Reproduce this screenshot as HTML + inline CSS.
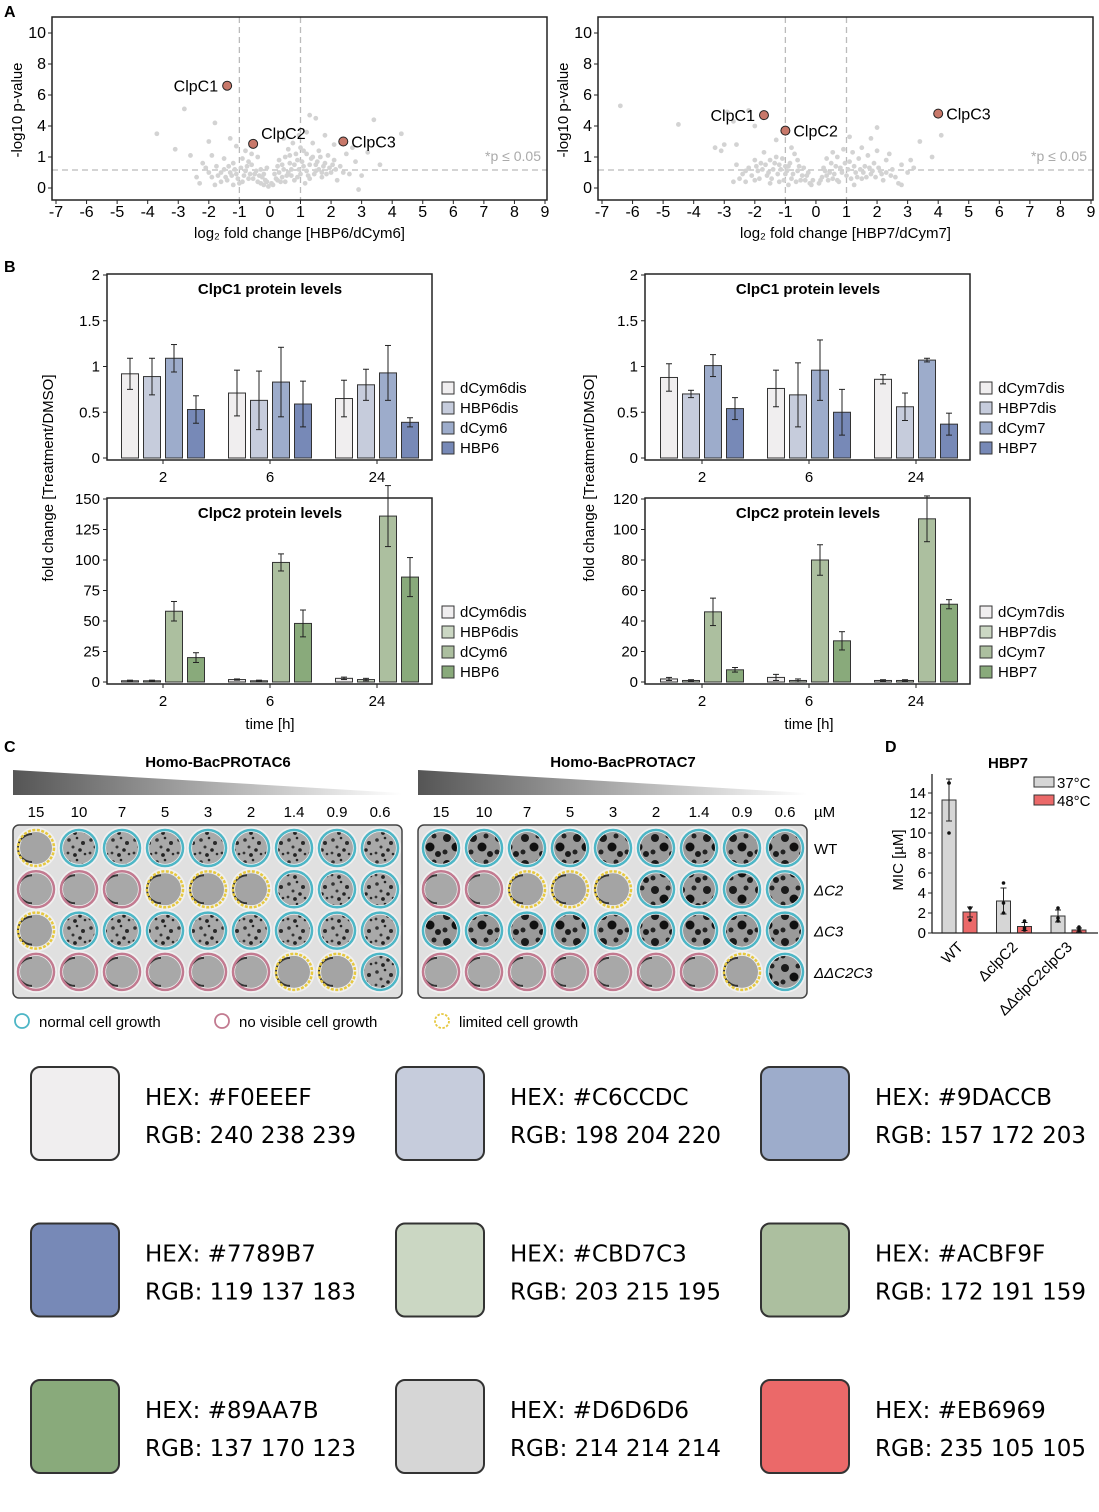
<!DOCTYPE html>
<html><head><meta charset="utf-8">
<style>
body{margin:0;background:#fff;}
svg text{font-family:"Liberation Sans",Arial,sans-serif;}
.sw text{font-family:"DejaVu Sans","Liberation Sans",sans-serif;}
</style></head>
<body>
<svg id="fig" width="1099" height="1507" viewBox="0 0 1099 1507" xmlns="http://www.w3.org/2000/svg">
<defs>
<linearGradient id="wedge" x1="0" x2="1" y1="0" y2="0"><stop offset="0" stop-color="#555"/><stop offset="1" stop-color="#fff"/></linearGradient>
<pattern id="speck" width="22" height="22" patternUnits="userSpaceOnUse">
<rect width="22" height="22" fill="#a9a9a9"/>
<circle cx="3" cy="4" r="1.8" fill="#333"/><circle cx="11" cy="2" r="1.3" fill="#222"/><circle cx="17" cy="7" r="2" fill="#2a2a2a"/><circle cx="7" cy="11" r="1.5" fill="#333"/><circle cx="14" cy="14" r="1.8" fill="#222"/><circle cx="2" cy="17" r="1.4" fill="#333"/><circle cx="19" cy="18" r="1.3" fill="#2a2a2a"/><circle cx="9" cy="19" r="1.9" fill="#222"/>
</pattern>
<pattern id="blob" width="26" height="26" patternUnits="userSpaceOnUse">
<rect width="26" height="26" fill="#9a9a9a"/>
<circle cx="5" cy="6" r="4" fill="#1a1a1a"/><circle cx="18" cy="4" r="2.5" fill="#222"/><circle cx="14" cy="15" r="4.5" fill="#111"/><circle cx="3" cy="20" r="2.5" fill="#222"/><circle cx="22" cy="22" r="3" fill="#1a1a1a"/>
</pattern>
</defs>
<g id="root"></g>
</svg>
<script>
// ---------- data ----------
const volcXTicks = [-7,-6,-5,-4,-3,-2,-1,0,1,2,3,4,5,6,7,8,9];
const volcYTicks = [0,2,4,6,8,10];
const volcYLabels = ["0","1","4","6","8","10"];
const volcLeftPts = [[-1.7,0.8],[-1.5,1.2],[-1.4,0.5],[-1.2,1.6],[-1.1,0.9],[-1.0,0.3],[-0.9,1.9],[-0.8,1.1],[-0.7,0.6],[-0.6,1.5],[-0.5,0.9],[-0.4,0.4],[-0.3,1.2],[-0.25,0.7],[-0.2,0.2],[-0.15,0.5],[-0.6,2.2],[-0.9,0.4],[-1.3,1.0],[-1.6,0.4],[-2.0,1.0],[-2.2,1.6],[-2.4,0.7],[-1.9,2.1],[-0.8,2.4],[-1.1,2.7],[-0.4,2.0],[-2.6,2.1],[-3.1,2.5],[-3.7,3.5],[-2.8,5.1],[-1.8,4.2],[-2.0,3.0],[-1.3,3.2],[0.1,0.2],[0.2,0.6],[0.3,1.0],[0.35,0.4],[0.4,1.5],[0.5,2.0],[0.55,0.8],[0.6,2.5],[0.7,1.2],[0.75,2.9],[0.8,0.5],[0.9,1.8],[1.0,2.6],[1.0,0.9],[1.1,1.4],[1.2,2.2],[1.3,0.6],[1.35,1.9],[1.4,2.9],[1.5,1.1],[1.6,2.4],[1.7,0.7],[1.8,1.6],[1.9,2.1],[2.0,1.0],[2.1,1.8],[2.2,0.5],[2.3,1.4],[2.5,2.2],[2.6,0.9],[2.8,1.7],[3.0,0.8],[1.3,4.7],[1.5,4.5],[1.2,3.6],[1.8,3.4],[2.1,2.8],[3.4,4.4],[4.3,3.5],[3.6,1.5],[2.7,2.6],[3.2,2.3],[0.45,3.2],[0.95,3.4],[-0.1,1.3],[-2.3,0.3],[-1.8,0.2],[-1.2,0.2],[-0.7,1.7],[0.65,1.6],[1.15,0.3],[1.55,1.7],[0.25,1.4],[-1.5,1.9],[2.4,1.0],[2.9,-0.1],
[-1.6,1.0],[-1.45,0.7],[-1.35,1.4],[-1.25,0.8],[-1.15,1.2],[-1.05,0.6],[-0.95,1.3],[-0.85,0.8],[-0.75,1.4],[-0.65,0.9],[-0.55,0.6],[-0.45,1.1],[-0.35,0.8],[-0.3,0.3],[-0.2,0.9],[-0.1,0.4],[-0.05,0.1],[0.05,0.3],[0.15,0.9],[0.25,0.5],[0.3,1.8],[0.4,0.7],[0.45,1.2],[0.5,0.4],[0.6,1.0],[0.65,2.1],[0.7,0.8],[0.8,1.5],[0.85,2.2],[0.9,0.7],[0.95,1.2],[1.05,1.7],[1.1,2.4],[1.2,1.1],[1.25,0.8],[1.3,1.5],[1.4,2.0],[1.45,0.9],[1.5,1.5],[1.6,1.2],[1.65,2.0],[1.7,1.0],[1.75,1.4],[1.85,0.9],[1.95,1.3],[2.05,1.5],[2.15,1.2],[-1.75,1.4],[-1.9,0.7],[-2.1,1.3]];
const volcRightPts = [[-2.4,0.9],[-2.2,1.3],[-2.0,0.5],[-1.8,1.6],[-1.6,0.8],[-1.4,1.2],[-1.2,0.4],[-1.1,1.9],[-1.0,0.9],[-0.9,1.4],[-0.8,0.6],[-0.7,2.2],[-0.6,1.1],[-0.5,0.5],[-0.4,1.3],[-0.3,0.8],[-0.2,0.3],[-0.1,0.5],[-1.5,0.3],[-1.9,1.1],[-2.6,1.5],[-2.3,0.4],[-0.8,2.6],[-1.3,2.0],[-1.7,2.3],[-0.6,1.8],[0.1,0.3],[0.2,0.7],[0.3,1.1],[0.4,0.5],[0.5,1.6],[0.6,0.9],[0.7,2.0],[0.8,1.3],[0.9,2.5],[1.0,0.8],[1.1,1.7],[1.2,2.3],[1.3,1.0],[1.4,1.9],[1.5,0.6],[1.6,1.4],[1.7,2.1],[1.8,0.9],[1.9,1.6],[2.0,2.4],[2.1,1.1],[2.2,0.5],[2.3,1.8],[2.5,1.2],[2.6,0.7],[2.8,1.5],[2.7,0.3],[3.0,1.0],[3.2,1.3],[0.35,1.9],[0.55,2.3],[-6.4,5.3],[-4.5,4.1],[-3.3,2.6],[-2.9,4.9],[-2.7,4.3],[-2.2,5.0],[-2.0,4.0],[-1.3,3.1],[-3.0,2.8],[-2.6,2.8],[-3.1,2.4],[1.1,3.3],[2.0,3.9],[1.8,3.2],[1.5,2.6],[3.4,3.0],[4.1,3.4],[3.8,2.0],[3.1,1.8],[2.8,0.2],[-2.7,0.4],[-0.9,0.2],[0.75,0.4],[1.25,0.2],[-1.2,1.5],[2.4,2.2],
[-2.3,1.1],[-2.1,0.8],[-1.95,1.4],[-1.85,0.6],[-1.75,1.2],[-1.65,1.5],[-1.55,1.0],[-1.45,0.6],[-1.35,1.6],[-1.25,0.9],[-1.15,1.2],[-1.05,0.5],[-0.95,1.1],[-0.85,1.6],[-0.75,0.9],[-0.65,0.4],[-0.55,1.4],[-0.45,0.8],[-0.35,0.5],[-0.25,1.0],[-0.15,0.2],[0.15,0.5],[0.25,1.3],[0.35,0.8],[0.45,1.0],[0.55,0.6],[0.65,1.4],[0.7,0.5],[0.85,1.0],[0.95,1.6],[1.05,1.2],[1.15,0.6],[1.25,1.4],[1.35,0.7],[1.45,1.2],[1.55,1.0],[1.65,0.7],[1.75,1.3],[1.85,1.1],[1.95,0.7],[2.05,1.3],[2.15,0.9],[2.3,1.0],[2.45,0.8],[-2.5,0.6],[-2.0,1.8],[-1.5,1.8],[-1.0,1.4]];
const volcLeftHits = [["ClpC1",-1.4,6.6],["ClpC2",-0.55,2.85],["ClpC3",2.4,3.0]];
const volcRightHits = [["ClpC1",-1.7,4.7],["ClpC2",-1.0,3.7],["ClpC3",4.0,4.8]];

const barTimes = ["2","6","24"];
const c1L = [[0.92,0.89,1.09,0.53],[0.71,0.63,0.83,0.59],[0.65,0.80,0.93,0.39]];
const c1Lerr = [[0.17,0.2,0.15,0.15],[0.25,0.32,0.38,0.25],[0.2,0.17,0.3,0.05]];
const c2L = [[1,1,58,20],[2,1,98,48],[3,2,136,86]];
const c2Lerr = [[0.5,0.5,8,4],[0.5,0.5,7,11],[1,1,25,16]];
const c1R = [[0.88,0.70,1.01,0.54],[0.76,0.69,0.96,0.50],[0.86,0.56,1.07,0.37]];
const c1Rerr = [[0.15,0.04,0.12,0.12],[0.2,0.35,0.33,0.25],[0.05,0.15,0.02,0.12]];
const c2R = [[2,1,46,8],[3,1,80,27],[1,1,107,51]];
const c2Rerr = [[1,0.5,9,1.5],[2,1,10,6],[0.5,0.5,15,3]];
const c1Ticks = [0,0.5,1,1.5,2];
const c1TickLabels = ["0","0.5","1","1.5","2"];
const c2LTicks = [0,25,50,75,100,125,150];
const c2RTicks = [0,20,40,60,80,100,120];
const legL1 = ["dCym6dis","HBP6dis","dCym6","HBP6"];
const legR1 = ["dCym7dis","HBP7dis","dCym7","HBP7"];

const concLabels = ["15","10","7","5","3","2","1.4","0.9","0.6"];
const strainLabels = ["WT","ΔC2","ΔC3","ΔΔC2C3"];
// B=normal, P=no growth, Y=limited
const plate6 = ["YBBBBBBBB","PPPYYYBBB","YBBBBBBBB","PPPPPPYYB"];
const plate7 = ["BBBBBBBBB","PPYYYBBBB","BBBBBBBBB","PPPPPPPYB"];

const micCats = ["WT","ΔclpC2","ΔΔclpC2clpC3"];
const mic37 = [13.3,3.2,1.7];
const mic48 = [2.1,0.65,0.3];
const mic37err = [2.1,1.3,0.6];
const mic48err = [0.5,0.4,0.2];
const mic37pts = [[15,10,15],[5,2,3],[2.5,1.2,1.5]];
const mic48pts = [[2.5,1.3,2.5],[1.2,0.3,0.5],[0.6,0.2,0.4]];
const micTicks = [0,2,4,6,8,10,12,14];

const swHex = ["#F0EEEF","#C6CCDC","#9DACCB","#7789B7","#CBD7C3","#ACBF9F","#89AA7B","#D6D6D6","#EB6969"];
const swRgb = ["240 238 239","198 204 220","157 172 203","119 137 183","203 215 195","172 191 159","137 170 123","214 214 214","235 105 105"];

// ---------- helpers ----------
const NS="http://www.w3.org/2000/svg";
const root=document.getElementById('root');
function E(tag,attrs,parent,txt){const e=document.createElementNS(NS,tag);for(const k in attrs)e.setAttribute(k,attrs[k]);if(txt!==undefined)e.textContent=txt;(parent||root).appendChild(e);return e;}
function G(name,parent){const g=E('g',{},parent);return g;}

// ---------- panel letters ----------
[["A",4,17],["B",4,272],["C",4,752],["D",885,752]].forEach(p=>{
  const t=E('text',{x:p[1],y:p[2],'font-size':16,'font-weight':'bold'},root,p[0]);
  
  
});

// ---------- volcano ----------
function volcano(x0,x1,pts,hits,xlabel,name){
  const g=G(name);
  const top=17,bot=200;
  const sx=v=>x0+4+(v+7)*(x1-x0-6)/16;
  const sy=v=>188-v*15.5;
  E('line',{x1:sx(-1),x2:sx(-1),y1:top,y2:bot,stroke:'#bbb','stroke-dasharray':'6,4','stroke-width':1.3},g);
  E('line',{x1:sx(1),x2:sx(1),y1:top,y2:bot,stroke:'#bbb','stroke-dasharray':'6,4','stroke-width':1.3},g);
  E('line',{x1:x0,x2:x1,y1:sy(1.16),y2:sy(1.16),stroke:'#bbb','stroke-dasharray':'6,4','stroke-width':1.3},g);
  pts.forEach(p=>{const c=E('circle',{cx:sx(p[0]),cy:sy(p[1]),r:2.4,fill:'#d3d3d3'},g);
    });
  hits.forEach(h=>{const c=E('circle',{cx:sx(h[1]),cy:sy(h[2]),r:4.5,fill:'#c8786a',stroke:'#222','stroke-width':1},g);
    
    const left=h[0]==="ClpC1";
    const t=E('text',{x:left?sx(h[1])-9:sx(h[1])+8,y:sy(h[2])+(h[0]==="ClpC2"&&name==="volcano-left"?-5:6),'font-size':16,'text-anchor':left?'end':'start'},g,h[0]);
    });
  E('text',{x:x1-6,y:161,'font-size':14,fill:'#aaa','text-anchor':'end'},g,'*p ≤ 0.05');
  E('rect',{x:x0,y:top,width:x1-x0,height:bot-top,fill:'none',stroke:'#222','stroke-width':1.5},g);
  volcXTicks.forEach(v=>{E('line',{x1:sx(v),x2:sx(v),y1:bot,y2:bot+4,stroke:'#222'},g);
    E('text',{x:sx(v),y:bot+17,'font-size':16,'text-anchor':'middle'},g,String(v));});
  volcYTicks.forEach((v,i)=>{E('line',{x1:x0-4,x2:x0,y1:sy(v),y2:sy(v),stroke:'#222'},g);
    E('text',{x:x0-6,y:sy(v)+5,'font-size':16,'text-anchor':'end'},g,volcYLabels[i]);});
  const yt=E('text',{x:0,y:0,'font-size':15,'text-anchor':'middle',transform:`translate(${x0-30},110) rotate(-90)`},g,'-log10 p-value');
  
  const xt=E('text',{x:(x0+x1)/2,y:238,'font-size':15,'text-anchor':'middle'},g,xlabel);
  
}
volcano(52,547,volcLeftPts,volcLeftHits,'log₂ fold change [HBP6/dCym6]','volcano-left');
volcano(598,1093,volcRightPts,volcRightHits,'log₂ fold change [HBP7/dCym7]','volcano-right');

// ---------- bar charts ----------
function barChart(x0,top,bot,maxV,ticks,tickLabels,vals,errs,colors,title,leg,name,centers){
  const g=G(name);
  const x1=x0+325, base=bot-2;
  const sy=v=>base-v*(base-(top+1))/maxV;
  E('rect',{x:x0,y:top,width:325,height:bot-top,fill:'none',stroke:'#222','stroke-width':1.5},g);
  E('text',{x:x0+163,y:top+20,'font-size':15,'font-weight':'bold','text-anchor':'middle'},g,title);
  ticks.forEach((v,i)=>{E('line',{x1:x0-4,x2:x0,y1:sy(v),y2:sy(v),stroke:'#222'},g);
    E('text',{x:x0-7,y:sy(v)+5,'font-size':15,'text-anchor':'end'},g,tickLabels[i]);});
  vals.forEach((grp,gi)=>{
    const cx=centers[gi];
    E('line',{x1:cx,x2:cx,y1:bot,y2:bot+4,stroke:'#222'},g);
    E('text',{x:cx,y:bot+22,'font-size':15,'text-anchor':'middle'},g,barTimes[gi]);
    grp.forEach((v,bi)=>{
      const bx=cx-44+bi*22+2.5;
      const r=E('rect',{x:bx,y:sy(v),width:17,height:Math.max(0.5,base-sy(v)),fill:colors[bi],stroke:'#333','stroke-width':1},g);
      
      
      const e=errs[gi][bi], mx=bx+8.5;
      E('line',{x1:mx,x2:mx,y1:sy(v+e),y2:sy(Math.max(0,v-e)),stroke:'#222','stroke-width':1},g);
      E('line',{x1:mx-3,x2:mx+3,y1:sy(v+e),y2:sy(v+e),stroke:'#222'},g);
      E('line',{x1:mx-3,x2:mx+3,y1:sy(Math.max(0,v-e)),y2:sy(Math.max(0,v-e)),stroke:'#222'},g);
    });
  });
  leg.forEach((l,i)=>{
    const ly=bot-67+i*20;
    const lg=G('legend-entry-'+l.toLowerCase(),g);
    E('rect',{x:x1+10,y:ly-11,width:12,height:12,fill:colors[i],stroke:'#333'},lg);
    E('text',{x:x1+28,y:ly,'font-size':15},lg,l);
  });
}
const blueC=["#F0EEEF","#C6CCDC","#9DACCB","#7789B7"];
const greenC=["#F0EEEF","#CBD7C3","#ACBF9F","#89AA7B"];
barChart(107,274,460,2,c1Ticks,c1TickLabels,c1L,c1Lerr,blueC,'ClpC1 protein levels',legL1,'clpc1-bars-hbp6',[163,270,377]);
barChart(107,498,684,150,c2LTicks,c2LTicks.map(String),c2L,c2Lerr,greenC,'ClpC2 protein levels',legL1,'clpc2-bars-hbp6',[163,270,377]);
barChart(645,274,460,2,c1Ticks,c1TickLabels,c1R,c1Rerr,blueC,'ClpC1 protein levels',legR1,'clpc1-bars-hbp7',[702,809,916]);
barChart(645,498,684,120,c2RTicks,c2RTicks.map(String),c2R,c2Rerr,greenC,'ClpC2 protein levels',legR1,'clpc2-bars-hbp7',[702,809,916]);
[[53,'fold change [Treatment/DMSO]'],[594,'fold change [Treatment/DMSO]']].forEach(a=>{
  const t=E('text',{x:0,y:0,'font-size':15,'text-anchor':'middle',transform:`translate(${a[0]},478) rotate(-90)`},root,a[1]);
  });
[270,809].forEach(x=>{const t=E('text',{x:x,y:729,'font-size':15,'text-anchor':'middle'},root,'time [h]');
  });

// ---------- plates ----------
const ringCol={B:'#4db6c6',P:'#c27a90',Y:'#e6c840'};
function plate(x0,pattern,data,title,name){
  const g=G(name);
  E('polygon',{points:`${x0},770 ${x0+389},793 ${x0+389},795 ${x0},795`,fill:'url(#wedge)'},g);
  E('text',{x:x0+205,y:767,'font-size':15,'font-weight':'bold','text-anchor':'middle'},g,title);
  concLabels.forEach((c,i)=>E('text',{x:x0+23+i*43,y:817,'font-size':15,'text-anchor':'middle'},g,c));
  E('rect',{x:x0,y:825,width:389,height:173,rx:6,fill:'#e0e0e0',stroke:'#444','stroke-width':1.5},g);
  data.forEach((row,ri)=>{
    [...row].forEach((s,ci)=>{
      const cx=x0+23+ci*43, cy=848+ri*41.3;
      const w=G('well-'+strainLabels[ri]+'-'+concLabels[ci],g);
      E('circle',{cx:cx,cy:cy,r:21,fill:'#f0f0f0'},w);
      E('circle',{cx:cx,cy:cy,r:16,fill:s==='B'?`url(#${pattern})`:(s==='Y'?'#a4a4a4':'#a8a8a8')},w);
      if(s!=='B')E('path',{d:`M${cx-4},${cy-14} A14,14 0 0 0 ${cx-4},${cy+14}`,fill:'none',stroke:'#333','stroke-width':2},w);
      E('circle',{cx:cx,cy:cy,r:18,fill:'none',stroke:ringCol[s],'stroke-width':2.5,'stroke-dasharray':s==='Y'?'3,1.5':'none'},w);
    });
  });
}
plate(13,'speck',plate6,'Homo-BacPROTAC6','plate-hbp6');
plate(418,'blob',plate7,'Homo-BacPROTAC7','plate-hbp7');
E('text',{x:814,y:817,'font-size':15},root,'µM');
strainLabels.forEach((s,i)=>{const t=E('text',{x:814,y:854+i*41.3,'font-size':15,'font-style':i?'italic':'normal'},root,s);
  });
[[22,'normal cell growth','B'],[222,'no visible cell growth','P'],[442,'limited cell growth','Y']].forEach(l=>{
  const g=G('growth-legend-'+l[2]);
  E('circle',{cx:l[0],cy:1021,r:7,fill:'none',stroke:ringCol[l[2]],'stroke-width':1.8,'stroke-dasharray':l[2]==='Y'?'2.5,1.5':'none'},g);
  E('text',{x:l[0]+17,y:1027,'font-size':15},g,l[1]);
});

// ---------- panel D ----------
(function(){
  const g=G('mic-chart');
  const x0=932, base=933;
  const sy=v=>base-v*10.0;
  E('text',{x:1008,y:768,'font-size':15,'font-weight':'bold','text-anchor':'middle'},g,'HBP7');
  micTicks.forEach(v=>{E('line',{x1:x0-4,x2:x0,y1:sy(v),y2:sy(v),stroke:'#222'},g);
    E('text',{x:x0-6,y:sy(v)+5,'font-size':15,'text-anchor':'end'},g,String(v));});
  const yt=E('text',{x:0,y:0,'font-size':15,'text-anchor':'middle',transform:'translate(903,860) rotate(-90)'},g,'MIC [µM]');
  
  micCats.forEach((c,i)=>{
    const gx=x0+10+i*54.5;
    [[mic37[i],mic37err[i],mic37pts[i],'#D6D6D6'],[mic48[i],mic48err[i],mic48pts[i],'#EB6969']].forEach((b,k)=>{
      const bx=gx+k*21;
      const r=E('rect',{x:bx,y:sy(b[0]),width:14,height:base-sy(b[0]),fill:b[3],stroke:'#333'},g);
      
      
      const m=bx+7;
      E('line',{x1:m,x2:m,y1:sy(b[0]+b[1]),y2:sy(b[0]-b[1]),stroke:'#222'},g);
      E('line',{x1:m-3,x2:m+3,y1:sy(b[0]+b[1]),y2:sy(b[0]+b[1]),stroke:'#222'},g);
      E('line',{x1:m-3,x2:m+3,y1:sy(b[0]-b[1]),y2:sy(b[0]-b[1]),stroke:'#222'},g);
      b[2].forEach(p=>E('circle',{cx:m,cy:sy(p),r:1.8,fill:'#111'},g));
    });
    const t=E('text',{x:0,y:0,'font-size':15,'text-anchor':'end',transform:`translate(${gx+22},948) rotate(-45)`},g,c);
    
  });
  E('line',{x1:x0,x2:x0,y1:774,y2:base,stroke:'#222','stroke-width':1.3},g);
  E('line',{x1:x0,x2:1098,y1:base,y2:base,stroke:'#222','stroke-width':1.3},g);
  [['37°C','#D6D6D6',786],['48°C','#EB6969',804]].forEach(l=>{
    const lg=G('legend-entry-'+l[0],g);
    E('rect',{x:1034,y:l[2]-9,width:20,height:10,fill:l[1],stroke:'#333'},lg);
    E('text',{x:1057,y:l[2]+2,'font-size':15},lg,l[0]);
  });
})();

// ---------- swatches ----------
const swg=G('color-swatches');
swg.setAttribute('class','sw');
swHex.forEach((h,i)=>{
  const col=i%3,row=Math.floor(i/3);
  const x=31+col*365, y=1067+row*156.5;
  const g=G('swatch-'+h.slice(1).toLowerCase(),swg);
  E('rect',{x:x,y:y,width:88,height:93,rx:9,fill:h,stroke:'#333','stroke-width':2},g);
  E('text',{x:x+114,y:y+38,'font-size':23},g,'HEX: '+h);
  E('text',{x:x+114,y:y+76,'font-size':23},g,'RGB: '+swRgb[i]);
});
</script>
</body></html>
